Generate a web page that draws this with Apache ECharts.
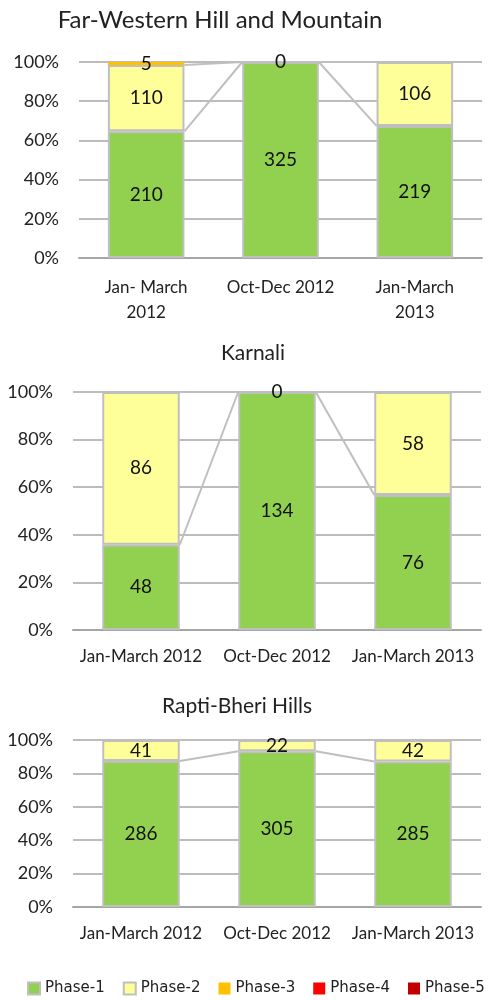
<!DOCTYPE html>
<html lang="en">
<head>
    <meta charset="UTF-8">
    <title>Phase classification</title>
    <script src="https://cdn.jsdelivr.net/npm/echarts@6/dist/echarts.min.js"></script>
    <style>
        body { margin: 0; background: #fff; }
    </style>
</head>
<body>
    <div id="main" style="width: 496px; height: 1000px"></div>
    <script>
        var chart = echarts.init(document.getElementById("main"));

        // categories
        var catsFW = ['Jan- March\n2012', 'Oct-Dec 2012', 'Jan-March\n2013'];
        var cats = ['Jan-March 2012', 'Oct-Dec 2012', 'Jan-March 2013'];

        // Far-Western Hill and Mountain
        var fwPhase1 = [210, 325, 219];
        var fwPhase2 = [110, 0, 106];
        var fwPhase3 = [5, null, null];
        // Karnali
        var kaPhase1 = [48, 134, 76];
        var kaPhase2 = [86, 0, 58];
        // Rapti-Bheri Hills
        var rbPhase1 = [286, 305, 285];
        var rbPhase2 = [41, 22, 42];

        var phaseNames = ['Phase-1', 'Phase-2', 'Phase-3', 'Phase-4', 'Phase-5'];
        var phaseColors = ['#92d050', '#ffff99', '#ffc000', '#ff0000', '#c00000'];

        var FONT = 'Lato';
        var BAR_FRAC = 0.57;

        // turn raw counts into share of column total
        function toPct(groups) {
            var totals = groups[0].map(function (v, i) {
                var s = 0;
                groups.forEach(function (g) { s += g[i] || 0; });
                return s;
            });
            return groups.map(function (g) {
                return g.map(function (v, i) {
                    if (v === null) return null;
                    return { value: v / totals[i] * 100, raw: v };
                });
            });
        }

        // cumulative tops for the series lines between columns
        function lineData(pctGroups, upTo) {
            var out = [];
            for (var i = 0; i < 2; i++) {
                var a = 0, b = 0;
                for (var k = 0; k <= upTo; k++) {
                    var pa = pctGroups[k][i], pb = pctGroups[k][i + 1];
                    a += pa ? pa.value : 0;
                    b += pb ? pb.value : 0;
                }
                out.push([i, a, b]);
            }
            return out;
        }

        var charts = [
            { title: 'Far-Western Hill and Mountain', cats: catsFW, groups: [fwPhase1, fwPhase2, fwPhase3],
              grid: { left: 79, right: 14, top: 62, height: 196 }, titleX: 215, titleTop: 3, titleSize: 24, labelMargin: 17 },
            { title: 'Karnali', cats: cats, groups: [kaPhase1, kaPhase2],
              grid: { left: 73, right: 15, top: 392, height: 238 }, titleX: 248, titleTop: 338, titleSize: 21, labelMargin: 14 },
            { title: 'Rapti-Bheri Hills', cats: cats, groups: [rbPhase1, rbPhase2],
              grid: { left: 73, right: 15, top: 740, height: 167 }, titleX: 232, titleTop: 691, titleSize: 21, labelMargin: 14 }
        ];

        var option = {
            animation: false,
            textStyle: { fontFamily: FONT },
            title: [],
            grid: [],
            xAxis: [],
            yAxis: [],
            series: [],
            legend: {
                data: phaseNames,
                bottom: -1,
                left: 22,
                itemWidth: 12,
                itemHeight: 12,
                itemGap: 18,
                icon: 'rect',
                textStyle: { fontFamily: 'DejaVu Sans', fontSize: 15, color: '#222' }
            }
        };

        charts.forEach(function (c, ci) {
            option.title.push({
                text: c.title,
                left: c.titleX,
                top: c.titleTop,
                textAlign: 'center',
                textStyle: { fontFamily: FONT, fontSize: c.titleSize, fontWeight: 'normal', color: '#222' }
            });
            option.grid.push(c.grid);
            option.xAxis.push({
                type: 'category',
                gridIndex: ci,
                data: c.cats,
                axisTick: { show: false },
                axisLine: { lineStyle: { color: '#a6a6a6', width: 2 } },
                axisLabel: { color: '#222', fontSize: 17, margin: c.labelMargin, lineHeight: 25, interval: 0 }
            });
            option.yAxis.push({
                type: 'value',
                gridIndex: ci,
                min: 0,
                max: 100,
                interval: 20,
                axisLine: { show: false },
                axisTick: { show: false },
                axisLabel: { formatter: '{value}%', color: '#222', fontSize: 18, margin: 20 },
                splitLine: { lineStyle: { color: '#a6a6a6', width: 1.5 } }
            });

            var pct = toPct(c.groups);
            pct.forEach(function (d, k) {
                option.series.push({
                    name: phaseNames[k],
                    type: 'bar',
                    stack: 'total' + ci,
                    xAxisIndex: ci,
                    yAxisIndex: ci,
                    barCategoryGap: (100 - BAR_FRAC * 100) + '%',
                    data: d,
                    itemStyle: {
                        color: phaseColors[k],
                        borderColor: k < 2 ? '#bfbfbf' : phaseColors[k],
                        borderWidth: k < 2 ? 2 : 0
                    },
                    label: {
                        show: true,
                        position: 'inside',
                        color: '#111',
                        fontSize: 19,
                        formatter: function (p) { return p.data ? p.data.raw : ''; }
                    },
                    z: 3
                });
            });

            // series lines linking the column segments
            [0, 1].forEach(function (k) {
                option.series.push({
                    type: 'custom',
                    xAxisIndex: ci,
                    yAxisIndex: ci,
                    silent: true,
                    z: 2,
                    data: lineData(pct, k),
                    renderItem: function (params, api) {
                        var a = api.coord([api.value(0), api.value(1)]);
                        var b = api.coord([api.value(0) + 1, api.value(2)]);
                        var half = api.size([1, 0])[0] * BAR_FRAC / 2;
                        return {
                            type: 'line',
                            shape: { x1: a[0] + half, y1: a[1], x2: b[0] - half, y2: b[1] },
                            style: { stroke: '#bfbfbf', lineWidth: 2 }
                        };
                    }
                });
            });
        });

        // legend-only entries
        ['Phase-4', 'Phase-5'].forEach(function (n, i) {
            option.series.push({
                name: n,
                type: 'bar',
                stack: 'total2',
                xAxisIndex: 2,
                yAxisIndex: 2,
                data: [null, null, null],
                itemStyle: { color: phaseColors[3 + i] }
            });
        });

        chart.setOption(option);
    </script>
</body>
</html>
